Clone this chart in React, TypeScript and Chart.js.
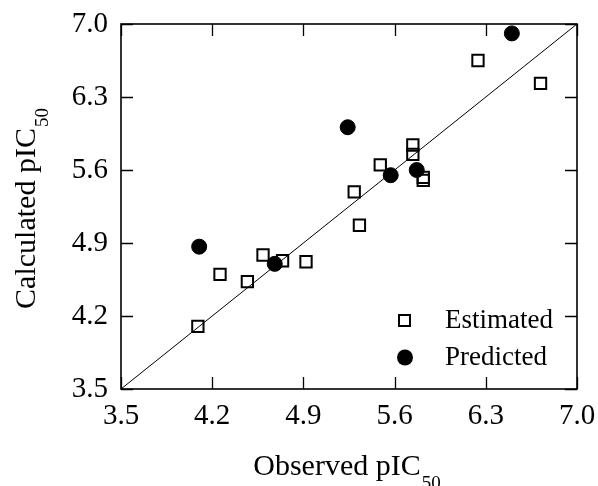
import React, { useEffect, useRef } from "react";
import { Chart, registerables } from "chart.js";

Chart.register(...registerables);

const tickValues = [3.5, 4.2, 4.9, 5.6, 6.3, 7.0];
const axisMin = 3.5;
const axisMax = 7.0;

const estimatedObserved = [4.09, 4.26, 4.47, 4.59, 4.74, 4.92, 5.29, 5.33, 5.49, 5.74, 5.74, 5.82, 5.82, 6.24, 6.72];
const estimatedCalculated = [4.10, 4.60, 4.53, 4.785, 4.73, 4.72, 5.39, 5.07, 5.65, 5.84, 5.75, 5.53, 5.50, 6.65, 6.43];

const predictedObserved = [4.10, 4.68, 5.24, 5.57, 5.77, 6.50];
const predictedCalculated = [4.865, 4.70, 6.01, 5.55, 5.60, 6.91];

const seriesNames = ["Estimated", "Predicted"];
const xTitle = "Observed pIC";
const yTitle = "Calculated pIC";
const titleSub = "50";

const FONT = '"Liberation Serif", "Times New Roman", serif';

const framePlugin = {
  id: "frame",
  beforeDatasetsDraw(chart: any) {
    const { ctx, chartArea: a, scales } = chart;
    ctx.save();
    ctx.strokeStyle = "#000";
    ctx.lineWidth = 1.3;
    const tl = 12;
    ctx.beginPath();
    for (const v of tickValues) {
      const px = Math.round(scales.x.getPixelForValue(v)) + 0.5;
      ctx.moveTo(px, a.bottom);
      ctx.lineTo(px, a.bottom - tl);
      ctx.moveTo(px, a.top);
      ctx.lineTo(px, a.top + tl);
      const py = Math.round(scales.y.getPixelForValue(v)) + 0.5;
      ctx.moveTo(a.left, py);
      ctx.lineTo(a.left + tl, py);
      ctx.moveTo(a.right, py);
      ctx.lineTo(a.right - tl, py);
    }
    ctx.stroke();
    ctx.lineWidth = 1.6;
    ctx.strokeRect(a.left, a.top, a.right - a.left, a.bottom - a.top);
    ctx.restore();
  },
};

const titlesPlugin = {
  id: "titles",
  afterDraw(chart: any) {
    const { ctx, chartArea: a } = chart;
    const mainSize = 30;
    const subSize = 19;
    ctx.save();
    ctx.fillStyle = "#000";
    ctx.textBaseline = "alphabetic";
    ctx.textAlign = "left";

    // X title
    ctx.font = `${mainSize}px ${FONT}`;
    const wx1 = ctx.measureText(xTitle).width;
    ctx.font = `${subSize}px ${FONT}`;
    const ws = ctx.measureText(titleSub).width;
    const cx = (a.left + a.right) / 2 - 2;
    const x0 = cx - (wx1 + 1 + ws) / 2;
    ctx.font = `${mainSize}px ${FONT}`;
    ctx.fillText(xTitle, x0, 475);
    ctx.font = `${subSize}px ${FONT}`;
    ctx.fillText(titleSub, x0 + wx1 + 1, 489);

    // Y title
    ctx.font = `${mainSize}px ${FONT}`;
    const wy1 = ctx.measureText(yTitle).width;
    ctx.save();
    ctx.translate(35, (a.top + a.bottom) / 2 + 2);
    ctx.rotate(-Math.PI / 2);
    const y0 = -(wy1 + 1 + ws) / 2;
    ctx.fillText(yTitle, y0, 0);
    ctx.font = `${subSize}px ${FONT}`;
    ctx.fillText(titleSub, y0 + wy1 + 1, 13);
    ctx.restore();

    // Legend
    ctx.font = `27px ${FONT}`;
    ctx.strokeStyle = "#000";
    ctx.lineWidth = 2;
    ctx.strokeRect(399, 315, 11, 11);
    ctx.fillText(seriesNames[0], 445, 328);
    ctx.beginPath();
    ctx.arc(405, 357.5, 8, 0, Math.PI * 2);
    ctx.fill();
    ctx.fillText(seriesNames[1], 445, 365);
    ctx.restore();
  },
};

export default function App() {
  const ref = useRef<HTMLCanvasElement | null>(null);

  useEffect(() => {
    if (!ref.current) return;
    const makeTicks = (s: any) => {
      s.ticks = tickValues.map((v) => ({ value: v }));
    };
    const chart = new Chart(ref.current, {
      type: "scatter",
      data: {
        datasets: [
          {
            label: "Identity",
            data: [
              { x: axisMin, y: axisMin },
              { x: axisMax, y: axisMax },
            ],
            showLine: true,
            borderColor: "#000",
            borderWidth: 1,
            pointRadius: 0,
            order: 3,
          } as any,
          {
            label: seriesNames[0],
            data: estimatedObserved.map((x, i) => ({ x, y: estimatedCalculated[i] })),
            pointStyle: "rect",
            pointRadius: 8,
            borderColor: "#000",
            borderWidth: 2,
            backgroundColor: "rgba(0,0,0,0)",
            order: 2,
          },
          {
            label: seriesNames[1],
            data: predictedObserved.map((x, i) => ({ x, y: predictedCalculated[i] })),
            pointStyle: "circle",
            pointRadius: 7.5,
            borderColor: "#000",
            borderWidth: 1,
            backgroundColor: "#000",
            order: 1,
          },
        ],
      },
      options: {
        animation: false,
        responsive: false,
        maintainAspectRatio: false,
        layout: { padding: { left: 0, right: 21, top: 24, bottom: 0 } },
        plugins: {
          legend: { display: false },
          tooltip: { enabled: false },
        },
        scales: {
          x: {
            type: "linear",
            min: axisMin,
            max: axisMax,
            afterBuildTicks: makeTicks,
            afterFit: (s: any) => {
              s.height = 97;
              s.paddingLeft = 0;
              s.paddingRight = 0;
              s.paddingTop = 0;
              s.paddingBottom = 0;
            },
            grid: { display: false, drawTicks: false },
            border: { display: false },
            ticks: {
              color: "#000",
              font: { family: FONT, size: 29 },
              padding: 10,
              maxRotation: 0,
              autoSkip: false,
              callback: (v: any) => Number(v).toFixed(1),
            },
          },
          y: {
            type: "linear",
            min: axisMin,
            max: axisMax,
            afterBuildTicks: makeTicks,
            afterFit: (s: any) => {
              s.width = 121;
              s.paddingLeft = 0;
              s.paddingRight = 0;
              s.paddingTop = 0;
              s.paddingBottom = 0;
            },
            grid: { display: false, drawTicks: false },
            border: { display: false },
            ticks: {
              color: "#000",
              font: { family: FONT, size: 29 },
              padding: 13,
              autoSkip: false,
              callback: (v: any) => Number(v).toFixed(1),
            },
          },
        },
      },
      plugins: [framePlugin, titlesPlugin],
    });
    return () => chart.destroy();
  }, []);

  return (
    <div style={{ position: "fixed", left: 0, top: 0, width: 598, height: 486, background: "#fff" }}>
      <canvas ref={ref} width={598} height={486} style={{ display: "block", width: 598, height: 486 }} />
    </div>
  );
}
